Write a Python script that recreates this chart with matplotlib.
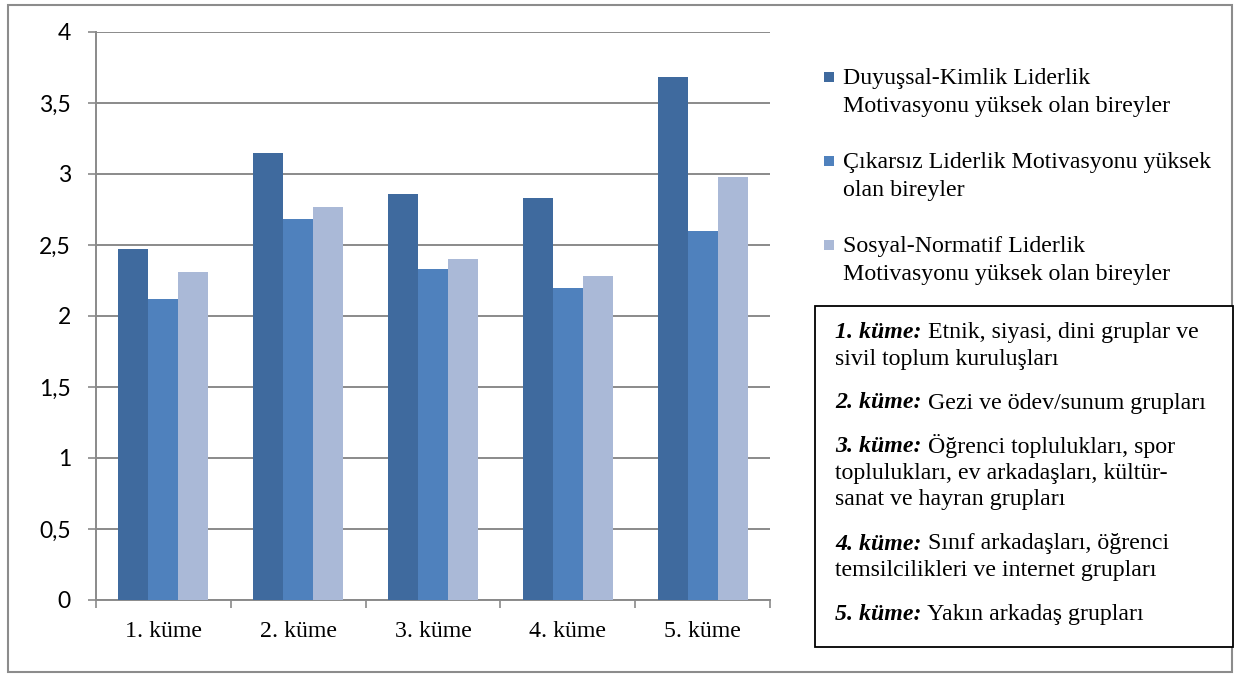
import numpy as np
import matplotlib
matplotlib.use('Agg')
import matplotlib.pyplot as plt
from matplotlib.patches import Rectangle
from matplotlib.ticker import FuncFormatter, FixedLocator

# ── Data ────────────────────────────────────────────────────────────────
categories = ['1. küme', '2. küme', '3. küme', '4. küme', '5. küme']
duyussal = [2.47, 3.15, 2.86, 2.83, 3.68]
cikarsiz = [2.12, 2.68, 2.33, 2.20, 2.60]
sosyal   = [2.31, 2.77, 2.40, 2.28, 2.98]

series_names = [
    ['Duyuşsal-Kimlik Liderlik', 'Motivasyonu yüksek olan bireyler'],
    ['Çıkarsız Liderlik Motivasyonu yüksek', 'olan bireyler'],
    ['Sosyal-Normatif Liderlik', 'Motivasyonu yüksek olan bireyler'],
]
colors = ['#3F6A9E', '#4F81BD', '#AAB9D7']

cluster_notes = [
    ('1. küme:', ['Etnik, siyasi, dini gruplar ve', 'sivil toplum kuruluşları']),
    ('2. küme:', ['Gezi ve ödev/sunum grupları']),
    ('3. küme:', ['Öğrenci toplulukları, spor', 'toplulukları, ev arkadaşları, kültür-',
                  'sanat ve hayran grupları']),
    ('4. küme:', ['Sınıf arkadaşları, öğrenci', 'temsilcilikleri ve internet grupları']),
    ('5. küme:', ['Yakın arkadaş grupları']),
]

W, H = 1241, 680
SERIF = 'Liberation Serif'
FS = 17.2


def fx(x):
    return x / W


def fy(y):
    return 1 - y / H


fig = plt.figure(figsize=(W / 100, H / 100), dpi=100)
fig.patch.set_facecolor('white')
renderer = fig.canvas.get_renderer()

# ── Bars ────────────────────────────────────────────────────────────────
ax = fig.add_axes([fx(96), fy(600), fx(770) - fx(96), fy(32) - fy(600)])
x = np.arange(len(categories))
bw = 0.2225
bars = []
for i, vals in enumerate([duyussal, cikarsiz, sosyal]):
    b = ax.bar(x + (i - 1) * bw, vals, width=bw, color=colors[i], zorder=3,
               linewidth=0)
    bars.append(b)

ax.set_xlim(-0.5, len(categories) - 0.5)
ax.set_ylim(0, 4)
ax.set_yticks(np.arange(0, 4.01, 0.5))
ax.yaxis.set_major_formatter(FuncFormatter(
    lambda v, p: ('%g' % v).replace('.', ',')))
ax.grid(axis='y', color='#8A8A8A', linewidth=1.4, zorder=0)

ax.xaxis.set_major_locator(FixedLocator(np.arange(-0.5, len(categories), 1.0)))
ax.xaxis.set_minor_locator(FixedLocator(x))
ax.set_xticklabels([])
ax.set_xticklabels(categories, minor=True, fontfamily=SERIF, fontsize=FS)
ax.tick_params(axis='x', which='major', length=6, width=1.2, color='#8A8A8A')
ax.tick_params(axis='x', which='minor', length=0, pad=15)
ax.tick_params(axis='y', length=6, width=1.2, color='#8A8A8A', pad=12,
               labelsize=16.5)
for lab in ax.get_yticklabels():
    lab.set_fontfamily('Lato')

for s in ['top', 'right']:
    ax.spines[s].set_visible(False)
for s in ['left', 'bottom']:
    ax.spines[s].set_color('#8A8A8A')
    ax.spines[s].set_linewidth(1.4)

# ── Legend (drawn by hand, Excel style) ────────────────────────────────
leg_y = [77, 161, 245]
for b, name, yc in zip(bars, series_names, leg_y):
    fig.patches.append(Rectangle((fx(824), fy(yc + 5)), fx(10), 10 / H,
                                 transform=fig.transFigure,
                                 facecolor=b.patches[0].get_facecolor(),
                                 edgecolor='none'))
    for j, line in enumerate(name):
        fig.text(fx(843), fy(yc + 7 + j * 28), line, fontfamily=SERIF,
                 fontsize=FS, va='baseline', ha='left', color='black')

# ── Cluster description box ────────────────────────────────────────────
fig.patches.append(Rectangle((fx(815), fy(647)), fx(1233) - fx(815),
                             (647 - 306) / H, transform=fig.transFigure,
                             facecolor='white', edgecolor='black',
                             linewidth=1.3, zorder=2))

line_y = 338
for head, lines in cluster_notes:
    t = fig.text(fx(835), fy(line_y), head, fontfamily=SERIF, fontsize=FS,
                 fontweight='bold', fontstyle='italic', va='baseline',
                 ha='left', zorder=3)
    x_end = t.get_window_extent(renderer).x1 / W
    fig.text(x_end, fy(line_y), ' ' + lines[0], fontfamily=SERIF,
             fontsize=FS, va='baseline', ha='left', zorder=3)
    for k, extra in enumerate(lines[1:]):
        fig.text(fx(835), fy(line_y + 26.5 * (k + 1)), extra,
                 fontfamily=SERIF, fontsize=FS, va='baseline', ha='left',
                 zorder=3)
    line_y += 26.5 * (len(lines) - 1) + 44

# ── Outer chart border ─────────────────────────────────────────────────
fig.patches.append(Rectangle((fx(8), fy(672)), fx(1232) - fx(8),
                             (672 - 5) / H, transform=fig.transFigure,
                             facecolor='none', edgecolor='#8C8C8C',
                             linewidth=1.5, zorder=1))

fig.savefig('out.png', dpi=100)
